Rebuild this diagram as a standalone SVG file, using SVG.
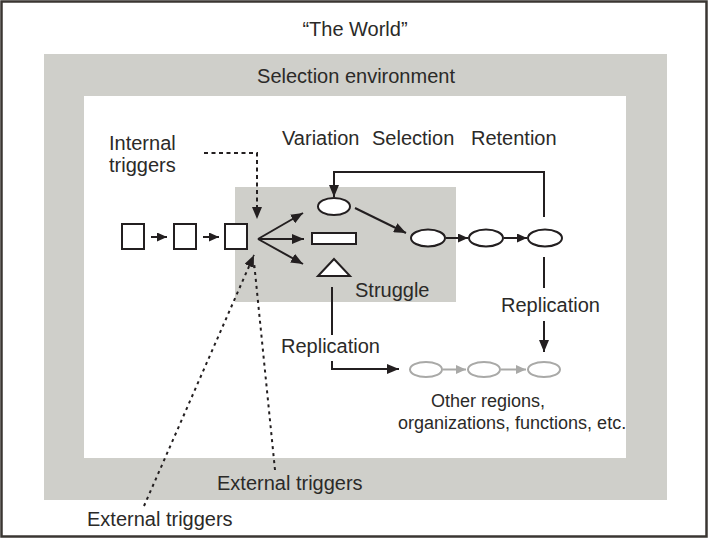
<svg xmlns="http://www.w3.org/2000/svg" width="710" height="540" viewBox="0 0 710 540">
  <style>
    text { font-family: "Liberation Sans", Arial, sans-serif; font-size: 20px; fill: #2b2a28; }
    .small { font-size: 18px; }
    .ln { stroke: #231f20; stroke-width: 2; fill: none; }
    .shape { stroke: #231f20; stroke-width: 2; fill: #ffffff; }
    .ghost { stroke: #a9a9a7; stroke-width: 2; fill: #ffffff; }
    .gln { stroke: #a9a9a7; stroke-width: 2; fill: none; }
    .dash { stroke: #231f20; stroke-width: 2; fill: none; stroke-dasharray: 4 3.5; }
    .dot { stroke: #231f20; stroke-width: 2; fill: none; stroke-dasharray: 3 4; }
  </style>
  <defs>
    <marker id="arr" markerUnits="userSpaceOnUse" markerWidth="13" markerHeight="10" refX="12" refY="5" orient="auto">
      <path d="M0,0 L12,5 L0,10 Z" fill="#231f20"/>
    </marker>
    <marker id="arrS" markerUnits="userSpaceOnUse" markerWidth="11" markerHeight="9" refX="10" refY="4.5" orient="auto">
      <path d="M0,0 L10,4.5 L0,9 Z" fill="#231f20"/>
    </marker>
    <marker id="arrG" markerUnits="userSpaceOnUse" markerWidth="11" markerHeight="9" refX="10" refY="4.5" orient="auto">
      <path d="M0,0 L10,4.5 L0,9 Z" fill="#a9a9a7"/>
    </marker>
  </defs>

  <!-- frames -->
  <g id="world">
    <rect x="1.5" y="1.5" width="705" height="535" fill="#ffffff" stroke="#3a3632" stroke-width="2.5"/>
    <text x="355" y="36" text-anchor="middle">“The World”</text>
  </g>
  <g id="selection-environment">
    <rect x="44" y="54" width="623" height="446" fill="#cfcfca"/>
    <rect x="84" y="96" width="542" height="362" fill="#ffffff"/>
    <text x="356" y="83" text-anchor="middle">Selection environment</text>
  </g>
  <g id="struggle-zone">
    <rect x="235" y="187" width="221" height="115" fill="#cfcfca"/>
    <text x="355" y="297">Struggle</text>
  </g>

  <!-- headings -->
  <g id="labels">
    <text x="282" y="145">Variation</text>
    <text x="372" y="145">Selection</text>
    <text x="471" y="145">Retention</text>
    <text x="109" y="150">Internal</text>
    <text x="109" y="172">triggers</text>
    <text x="217" y="490">External triggers</text>
    <text x="87" y="526">External triggers</text>
  </g>

  <!-- nodes -->
  <g id="unit-1"><rect class="shape" x="122" y="224" width="22" height="25"/></g>
  <g id="unit-2"><rect class="shape" x="174" y="224" width="22" height="25"/></g>
  <g id="unit-3"><rect class="shape" x="225" y="224" width="22" height="25"/></g>
  <g id="variant-ellipse"><ellipse class="shape" cx="334" cy="206.5" rx="16" ry="8.5"/></g>
  <g id="variant-rect"><rect class="shape" x="312" y="233" width="44" height="11"/></g>
  <g id="variant-triangle"><polygon class="shape" points="334,259 318,276 350,276"/></g>
  <g id="selected-1"><ellipse class="shape" cx="428" cy="238" rx="17" ry="8.5"/></g>
  <g id="selected-2"><ellipse class="shape" cx="486" cy="238" rx="17" ry="8.5"/></g>
  <g id="retained"><ellipse class="shape" cx="545" cy="238" rx="17" ry="8.5"/></g>
  <g id="copy-1"><ellipse class="ghost" cx="426" cy="369.5" rx="16" ry="7.5"/></g>
  <g id="copy-2"><ellipse class="ghost" cx="484" cy="369.5" rx="16" ry="7.5"/></g>
  <g id="copy-3"><ellipse class="ghost" cx="544" cy="369.5" rx="16" ry="7.5"/></g>
  <g id="other-regions">
    <text class="small" x="431" y="407">Other regions,</text>
    <text class="small" x="398" y="429">organizations, functions, etc.</text>
  </g>

  <!-- connectors -->
  <g id="connectors">
    <line class="ln" x1="151" y1="237" x2="167" y2="237" marker-end="url(#arrS)"/>
    <line class="ln" x1="203" y1="237" x2="219" y2="237" marker-end="url(#arrS)"/>
    <line class="ln" x1="258" y1="239" x2="303" y2="213" marker-end="url(#arr)"/>
    <line class="ln" x1="258" y1="239" x2="304" y2="239" marker-end="url(#arr)"/>
    <line class="ln" x1="258" y1="239" x2="303" y2="264" marker-end="url(#arr)"/>
    <line class="ln" x1="355" y1="208" x2="406" y2="233" marker-end="url(#arr)"/>
    <line class="ln" x1="446" y1="238" x2="468" y2="238" marker-end="url(#arrS)"/>
    <line class="ln" x1="504" y1="238" x2="527" y2="238" marker-end="url(#arrS)"/>
    <polyline class="ln" points="544,217 544,172 334,172 334,197" marker-end="url(#arr)"/>
    <line class="ln" x1="544" y1="257" x2="544" y2="288"/>
    <text x="501" y="312">Replication</text>
    <line class="ln" x1="544" y1="321" x2="544" y2="352" marker-end="url(#arr)"/>
    <line class="ln" x1="332" y1="287" x2="332" y2="335"/>
    <text x="281" y="353">Replication</text>
    <polyline class="ln" points="332,361 332,369 399,369" marker-end="url(#arr)"/>
    <line class="gln" x1="443" y1="369.5" x2="466" y2="369.5" marker-end="url(#arrG)"/>
    <line class="gln" x1="501" y1="369.5" x2="526" y2="369.5" marker-end="url(#arrG)"/>
    <polyline class="dash" points="204,153 257,153 257,219" marker-end="url(#arr)"/>
    <line class="dot" x1="144" y1="506" x2="254" y2="255" marker-end="url(#arr)"/>
    <line class="dot" x1="275" y1="470" x2="254" y2="262"/>
  </g>
</svg>
